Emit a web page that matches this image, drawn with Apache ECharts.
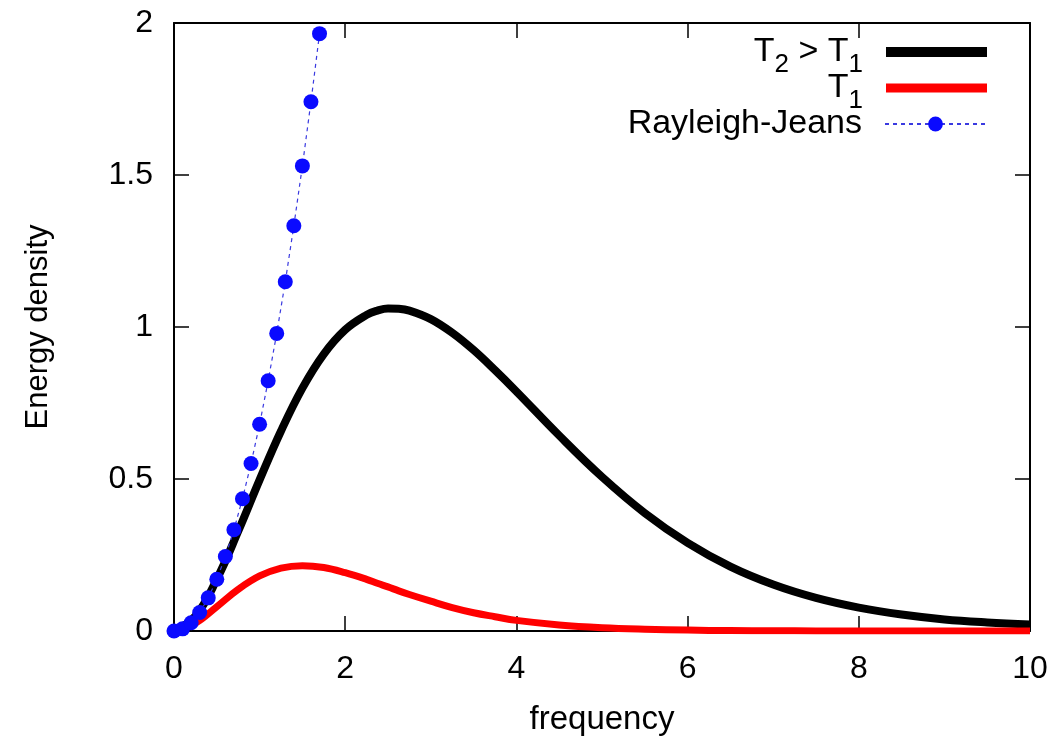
<!DOCTYPE html>
<html>
<head>
<meta charset="utf-8">
<script src="https://cdn.jsdelivr.net/npm/echarts@6/dist/echarts.min.js"></script>
<style>
html,body{margin:0;padding:0;background:#ffffff;}
#chart{width:1054px;height:738px;}
</style>
</head>
<body>
<div id="chart"></div>
<script>
// ---- data ----
const freqPlanck = [0, 0.25, 0.5, 0.75, 1, 1.25, 1.5, 1.75, 2, 2.25, 2.375, 2.5, 2.625, 2.75, 3, 3.25, 3.5, 3.75, 4,
                    4.5, 5, 5.5, 6, 6.5, 7, 7.5, 8, 8.5, 9, 9.5, 10];
const energyT2 = [0, 0.049, 0.170, 0.328, 0.497, 0.658, 0.799, 0.911, 0.991, 1.040, 1.054, 1.061, 1.060, 1.054, 1.026, 0.981, 0.924, 0.858, 0.788,
                  0.643, 0.507, 0.388, 0.290, 0.212, 0.153, 0.109, 0.077, 0.054, 0.038, 0.028, 0.021];
const energyT1 = [0, 0.026, 0.080, 0.137, 0.181, 0.207, 0.215, 0.209, 0.192, 0.170, 0.157, 0.145, 0.132, 0.120, 0.098, 0.077, 0.060, 0.047, 0.035,
                  0.020, 0.011, 0.006, 0.003, 0.0014, 0.0007, 0.0003, 0.0002, 0.0001, 0, 0, 0];
const freqRJ = [0, 0.1, 0.2, 0.3, 0.4, 0.5, 0.6, 0.7, 0.8, 0.9, 1.0, 1.1, 1.2, 1.3, 1.4, 1.5, 1.6, 1.7];
const energyRJ = [0, 0.007, 0.027, 0.061, 0.109, 0.170, 0.245, 0.333, 0.435, 0.551, 0.680, 0.823, 0.979, 1.149, 1.333, 1.530, 1.741, 1.965];
const seriesNames = ['T2 > T1', 'T1', 'Rayleigh-Jeans'];
const xRange = {min: 0, max: 10, interval: 2};
const yRange = {min: 0, max: 2, interval: 0.5};
const xName = 'frequency';
const yName = 'Energy density';

// ---- chart ----
const FONT = '"Liberation Sans", Arial, Helvetica, sans-serif';
const zip = (xs, ys) => xs.map((x, i) => [x, ys[i]]);

const legendRich = {
  m: {fontSize: 34, lineHeight: 34, fontFamily: FONT, color: '#000', verticalAlign: 'top'},
  s: {fontSize: 26, lineHeight: 26, fontFamily: FONT, color: '#000', verticalAlign: 'top', padding: [17, 0, 0, 0]}
};
const legendFormat = name => {
  if (name === 'T2 > T1') return '{m|T}{s|2}{m| > T}{s|1}';
  if (name === 'T1') return '{m|T}{s|1}';
  return name;
};

function frameAxis(extra) {
  return Object.assign({
    type: 'value',
    axisLine: {show: true, onZero: false, lineStyle: {color: '#000', width: 2}},
    axisTick: {show: true, inside: true, length: 15, lineStyle: {color: '#000', width: 1.5}},
    splitLine: {show: false},
    minorTick: {show: false}
  }, extra);
}

const chart = echarts.init(document.getElementById('chart'), null, {renderer: 'canvas'});
chart.setOption({
  animation: false,
  backgroundColor: '#ffffff',
  textStyle: {fontFamily: FONT},
  grid: {left: 174, right: 24, top: 23, bottom: 107, containLabel: false, outerBoundsMode: 'none'},
  legend: [
    {
      data: [{name: seriesNames[0], icon: 'rect', itemStyle: {color: '#000'}}],
      right: 67, top: 35, padding: 0, align: 'right', orient: 'vertical',
      itemWidth: 101, itemHeight: 10, selectedMode: false,
      formatter: legendFormat,
      textStyle: {fontFamily: FONT, fontSize: 34, color: '#000', padding: [0, 18, 0, 0], rich: legendRich}
    },
    {
      data: [{name: seriesNames[1], icon: 'rect', itemStyle: {color: '#ff0000'}}],
      right: 67, top: 71, padding: 0, align: 'right', orient: 'vertical',
      itemWidth: 101, itemHeight: 9, selectedMode: false,
      formatter: legendFormat,
      textStyle: {fontFamily: FONT, fontSize: 34, color: '#000', padding: [0, 18, 0, 0], rich: legendRich}
    },
    {
      data: [{name: seriesNames[2]}],
      right: 67, top: 107, padding: 0, align: 'right', orient: 'vertical',
      itemWidth: 101, itemHeight: 18.5, selectedMode: false,
      textStyle: {fontFamily: FONT, fontSize: 34, color: '#000', padding: [0, 18, 8, 0]}
    }
  ],
  xAxis: [
    frameAxis({
      position: 'bottom', min: xRange.min, max: xRange.max, interval: xRange.interval,
      name: xName, nameLocation: 'middle', nameGap: 72,
      nameTextStyle: {fontFamily: FONT, fontSize: 33, color: '#000'},
      axisLabel: {show: true, margin: 22, fontFamily: FONT, fontSize: 32, color: '#000'}
    }),
    frameAxis({
      position: 'top', min: xRange.min, max: xRange.max, interval: xRange.interval,
      axisLabel: {show: false}
    })
  ],
  yAxis: [
    frameAxis({
      position: 'left', min: yRange.min, max: yRange.max, interval: yRange.interval,
      name: yName, nameLocation: 'middle', nameGap: 120, nameRotate: 90,
      nameTextStyle: {fontFamily: FONT, fontSize: 31, color: '#000'},
      axisLabel: {show: true, margin: 21, fontFamily: FONT, fontSize: 32, color: '#000'}
    }),
    frameAxis({
      position: 'right', min: yRange.min, max: yRange.max, interval: yRange.interval,
      axisLabel: {show: false}
    })
  ],
  series: [
    {
      name: seriesNames[0], type: 'line', xAxisIndex: 0, yAxisIndex: 0,
      data: zip(freqPlanck, energyT2),
      smooth: 0.4, showSymbol: false, symbol: 'none',
      lineStyle: {color: '#000000', width: 8, cap: 'butt', join: 'round'}, itemStyle: {color: '#000000'},
      z: 2
    },
    {
      name: seriesNames[1], type: 'line', xAxisIndex: 0, yAxisIndex: 0,
      data: zip(freqPlanck, energyT1),
      smooth: 0.4, showSymbol: false, symbol: 'none',
      lineStyle: {color: '#ff0000', width: 7, cap: 'butt', join: 'round'}, itemStyle: {color: '#ff0000'},
      z: 3
    },
    {
      name: seriesNames[2], type: 'line', xAxisIndex: 0, yAxisIndex: 0,
      data: zip(freqRJ, energyRJ),
      clip: false,
      symbol: 'circle', symbolSize: 15, showSymbol: true,
      lineStyle: {color: '#3a3ae0', width: 1.2, type: [4, 4]},
      itemStyle: {color: '#0a0aff'},
      z: 4
    }
  ]
});
</script>
</body>
</html>
